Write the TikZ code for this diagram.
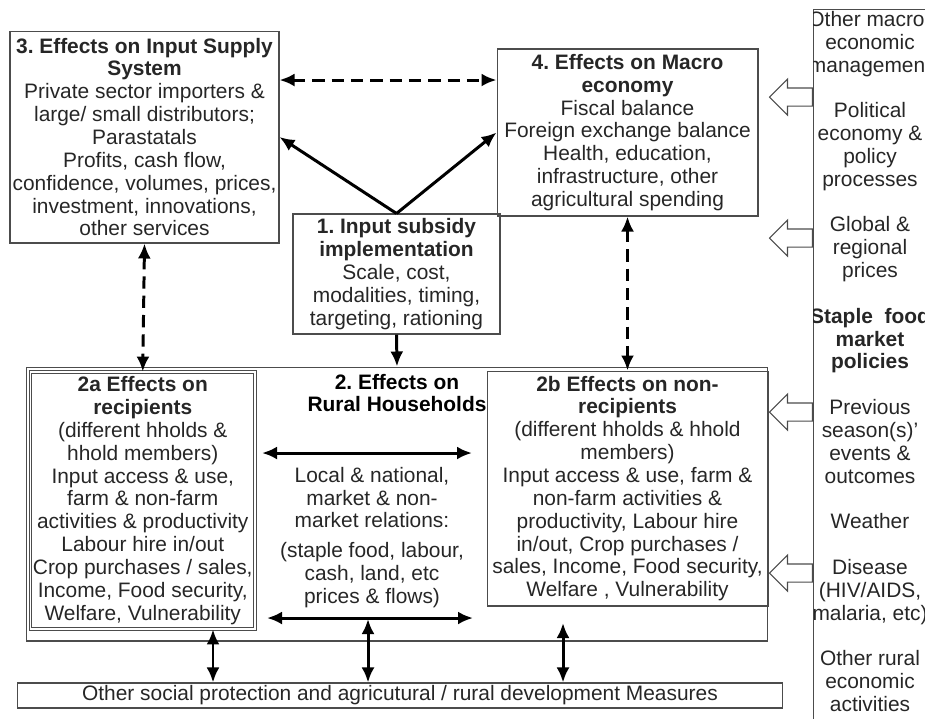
\documentclass[tikz,border=0pt]{standalone}
\usepackage{fontspec}
\setmainfont{Liberation Sans}
\usepackage{xcolor}
\usepackage{tikz}
\usetikzlibrary{positioning,shapes.arrows}
\usetikzlibrary{arrows.meta}
\tikzset{>={Latex[width=2.6mm,length=3mm]}}
\frenchspacing
\definecolor{linegray}{gray}{0.3}
\definecolor{textgray}{gray}{0.15}
\tikzstyle{plain-box}=[rectangle, draw=linegray, line width=0.6pt, inner sep=0pt, align=center, text=textgray]
\tikzstyle{flow}=[->, line width=1.7pt]
\tikzstyle{two-way}=[<->, line width=1.7pt]
\tikzstyle{feedback}=[<->, line width=1.7pt, dash pattern=on 7pt off 4pt]
\tikzstyle{in-arrow}=[single arrow, shape border rotate=180, draw=linegray, fill=white, line width=0.6pt, inner sep=0.17cm, single arrow head extend=0.18cm, minimum height=0.86cm]

\begin{document}
\begin{tikzpicture}[x=0.02cm, y=-0.02cm, font=\fontsize{11.9pt}{13pt}\selectfont]
	\useasboundingbox (0,0) rectangle (925,718);

	\node[plain-box, minimum width=5.38cm, minimum height=4.24cm] (supply) at (144.5,137)
		{\textbf{3. Effects on Input Supply}\\\textbf{System}\\Private sector importers \&\\large/ small distributors;\\Parastatals\\Profits, cash flow,\\confidence, volumes, prices,\\investment, innovations,\\other services};

	\node[plain-box, minimum width=5.22cm, minimum height=3.34cm] (macro) at (627.5,132.5)
		{\textbf{4. Effects on Macro}\\\textbf{economy}\\Fiscal balance\\Foreign exchange balance\\Health, education,\\infrastructure, other\\agricultural spending};

	\node[plain-box, minimum width=4.14cm, minimum height=2.4cm] (subsidy) at (396.5,274)
		{\textbf{1. Input subsidy}\\\textbf{implementation}\\Scale, cost,\\modalities, timing,\\targeting, rationing};

	% rural households
	\node[plain-box, minimum width=14.84cm, minimum height=5.48cm] (rural) at (397,504) {};
	\node[align=center, inner sep=0pt] (rural-title) at (397,393) {\textbf{2. Effects on}\\\textbf{Rural Households}};

	\node[plain-box, double, line width=0.5pt, double distance=0.9pt, minimum width=4.49cm, minimum height=5.14cm] (recip) at (142.75,500.5)
		{\textbf{2a Effects on}\\\textbf{recipients}\\(different hholds \&\\hhold members)\\Input access \& use,\\farm \& non-farm\\activities \& productivity\\Labour hire in/out\\Crop purchases / sales,\\Income, Food security,\\Welfare, Vulnerability};

	\node[plain-box, minimum width=5.62cm, minimum height=4.7cm] (nonrec) at (627.5,488.5)
		{\textbf{2b Effects on non-}\\\textbf{recipients}\\(different hholds \& hhold\\members)\\Input access \& use, farm \&\\non-farm activities \&\\productivity, Labour hire\\in/out, Crop purchases /\\sales, Income, Food security,\\Welfare , Vulnerability};

	\node[align=center, inner sep=0pt, text=textgray] (market) at (372,537.5)
		{Local \& national,\\market \& non-\\market relations:\\[4pt](staple food, labour,\\cash, land, etc\\prices \& flows)};

	\node[plain-box, minimum width=15.32cm, minimum height=0.5cm] (measures) at (400,695.5)
		{Other social protection and agricutural / rural development Measures};

	% outside factors
	\node[rectangle, draw=linegray, line width=0.8pt, minimum width=2.6cm, minimum height=14.4cm, anchor=north west] (column) at (813,9) {};
	\begin{scope}
		\clip (813,0) rectangle (925,718);
		\node[align=center, inner sep=0pt, text=textgray] (factors) at (870,361.5)
			{Other macro-\\economic\\management\\[13pt]Political\\economy \&\\policy\\processes\\[13pt]Global \&\\regional\\prices\\[13pt]\textbf{Staple\ \ food}\\\textbf{market}\\\textbf{policies}\\[13pt]Previous\\season(s)'\\events \&\\outcomes\\[13pt]Weather\\[13pt]Disease\\(HIV/AIDS,\\malaria, etc)\\[13pt]Other rural\\economic\\activities};
	\end{scope}

	\coordinate (row-a) at (0,97);
	\coordinate (row-b) at (0,238);
	\coordinate (row-c) at (0,412);
	\coordinate (row-d) at (0,573);
	\node[in-arrow, anchor=tail] (in-macro) at (column.west |- row-a) {};
	\node[in-arrow, anchor=tail] (in-prices) at (column.west |- row-b) {};
	\node[in-arrow, anchor=tail] (in-previous) at (column.west |- row-c) {};
	\node[in-arrow, anchor=tail] (in-disease) at (column.west |- row-d) {};

	\path (subsidy.north) edge[flow] (supply.east);
	\path (subsidy.north) edge[flow] (macro.west);
	\path (subsidy.south) edge[flow] (rural.north);

	\coordinate (row-top) at (0,80);
	\path (supply.east |- row-top) edge[feedback] (macro.west |- row-top);
	\path (supply.south) edge[feedback] (recip.north);
	\path (macro.south) edge[feedback] (nonrec.north);

	\coordinate (hh-top-west) at (262,453);
	\coordinate (hh-top-east) at (472,453);
	\coordinate (hh-bot-west) at (267,618);
	\coordinate (hh-bot-east) at (473,618);
	\coordinate (hh-bot-mid) at (368,619);
	\coordinate (hh-right) at (563,623);
	\coordinate (lane-left) at (213,0);
	\path (hh-top-west) edge[two-way] (hh-top-east);
	\path (hh-bot-west) edge[two-way] (hh-bot-east);

	\path (recip.south -| lane-left) edge[two-way] (measures.north -| lane-left);
	\path (hh-bot-mid) edge[two-way] (measures.north -| hh-bot-mid);
	\path (hh-right) edge[two-way] (measures.north -| hh-right);
\end{tikzpicture}
\end{document}
